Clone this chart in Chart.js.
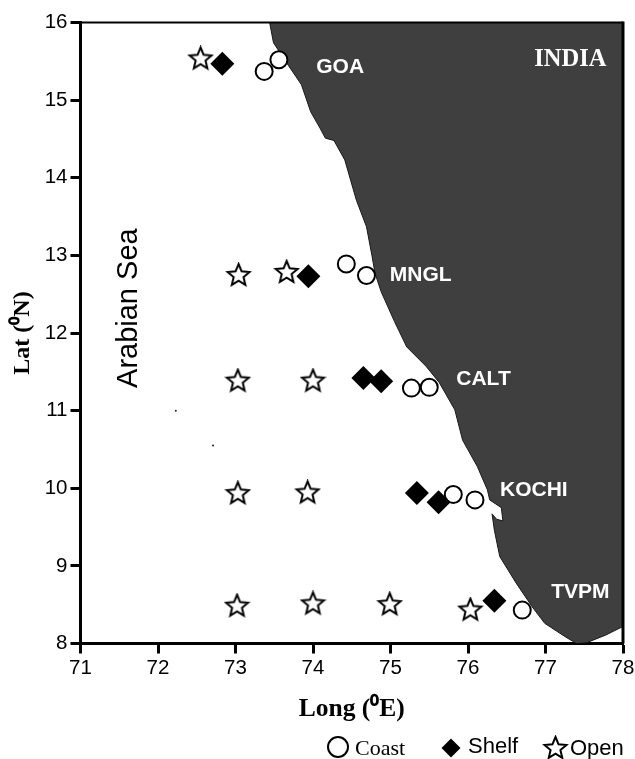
<!DOCTYPE html>
<html>
<head>
<meta charset="utf-8">
<style>
  html, body { margin: 0; padding: 0; background: #fff; }
  canvas { display: block; }
</style>
<script src="https://cdn.jsdelivr.net/npm/chart.js@4"></script>
</head>
<body>
<canvas id="chart" width="635" height="759"></canvas>
<script>
var xTicks = [71, 72, 73, 74, 75, 76, 77, 78];
var yTicks = [8, 9, 10, 11, 12, 13, 14, 15, 16];

var coastLon = [73.37, 73.56, 74.43, 74.69, 75.27, 75.50, 75.81, 76.09, 76.70];
var coastLat = [15.37, 15.52, 12.89, 12.74, 11.29, 11.30, 9.92, 9.85, 8.43];
var shelfLon = [72.83, 73.94, 74.65, 74.88, 75.34, 75.62, 76.34];
var shelfLat = [15.47, 12.73, 11.42, 11.38, 9.94, 9.82, 8.55];
var openLon = [72.55, 73.04, 73.66, 73.03, 74.00, 73.03, 73.93, 73.02, 74.00, 74.99, 76.03];
var openLat = [15.53, 12.74, 12.78, 11.38, 11.38, 9.93, 9.94, 8.48, 8.51, 8.50, 8.43];

// west coast of india, north to south
var shoreLon = [73.44, 73.49, 73.68, 73.85, 73.97, 74.09, 74.16, 74.27, 74.41, 74.56, 74.69, 74.76, 74.80, 74.88, 75.05, 75.21, 75.46, 75.63, 75.83, 75.93, 76.12, 76.25, 76.28, 76.43, 76.45, 76.37, 76.31, 76.34, 76.41, 76.62, 76.83, 76.99, 77.25, 77.40, 77.53, 77.78, 78.00];
var shoreLat = [16.00, 15.74, 15.45, 15.20, 14.85, 14.64, 14.51, 14.48, 14.23, 13.71, 13.37, 13.00, 12.77, 12.53, 12.15, 11.82, 11.57, 11.36, 11.01, 10.62, 10.28, 9.98, 9.85, 9.75, 9.58, 9.60, 9.67, 9.46, 9.12, 8.78, 8.47, 8.26, 8.09, 8.00, 8.01, 8.11, 8.22];
var isleLon = [72.23, 72.71];
var isleLat = [11.00, 10.55];

var placeNames = ['GOA', 'MNGL', 'CALT', 'KOCHI', 'TVPM'];
var placeLon = [74.35, 75.39, 76.20, 76.85, 77.45];
var placeLat = [15.42, 12.75, 11.41, 9.98, 8.66];

function toPoints(xs, ys) {
  return xs.map(function (x, i) { return { x: x, y: ys[i] }; });
}

function makeStar(size) {
  var c = document.createElement('canvas');
  c.width = size;
  c.height = size;
  var g = c.getContext('2d');
  var mid = size / 2;
  var outer = size / 2 - 2;
  var inner = outer * 0.45;
  g.beginPath();
  for (var i = 0; i < 10; i++) {
    var r = i % 2 ? inner : outer;
    var a = -Math.PI / 2 + i * Math.PI / 5;
    g.lineTo(mid + r * Math.cos(a), mid + r * Math.sin(a));
  }
  g.closePath();
  g.fillStyle = '#fff';
  g.fill();
  g.lineWidth = 2;
  g.lineJoin = 'miter';
  g.strokeStyle = '#000';
  g.stroke();
  return c;
}
var star = makeStar(27);

// box round the plot, map names and the hand placed legend
var extras = {
  id: 'extras',
  afterDatasetsDraw: function (chart) {
    var ctx = chart.ctx;
    var area = chart.chartArea;
    var sx = chart.scales.x;
    var sy = chart.scales.y;
    ctx.save();
    ctx.strokeStyle = '#000';
    ctx.lineWidth = 2;
    ctx.beginPath();
    ctx.moveTo(area.left, area.top);
    ctx.lineTo(area.right, area.top);
    ctx.stroke();
    ctx.lineWidth = 3;
    ctx.beginPath();
    ctx.moveTo(area.right, area.top - 1);
    ctx.lineTo(area.right, area.bottom);
    ctx.stroke();

    ctx.textAlign = 'center';
    ctx.textBaseline = 'middle';
    ctx.fillStyle = '#fff';
    ctx.font = 'bold 21px "Liberation Sans"';
    placeNames.forEach(function (name, i) {
      ctx.fillText(name, sx.getPixelForValue(placeLon[i]), sy.getPixelForValue(placeLat[i]));
    });
    ctx.font = 'bold 24.5px "Liberation Serif"';
    ctx.fillText('INDIA', sx.getPixelForValue(77.32), sy.getPixelForValue(15.52));

    ctx.fillStyle = '#000';
    ctx.save();
    ctx.translate(sx.getPixelForValue(71.62), sy.getPixelForValue(12.32));
    ctx.rotate(-Math.PI / 2);
    ctx.font = '29px "Liberation Sans"';
    ctx.fillText('Arabian Sea', 0, 0);
    ctx.restore();

    // legend
    ctx.textAlign = 'left';
    ctx.textBaseline = 'alphabetic';
    ctx.font = '22px "Liberation Serif"';
    ctx.fillText('Coast', 355, 755);
    ctx.font = '22px "Liberation Sans"';
    ctx.fillText('Shelf', 468, 753);
    ctx.fillText('Open', 570, 755);
    ctx.beginPath();
    ctx.arc(338, 747, 10, 0, Math.PI * 2);
    ctx.lineWidth = 2;
    ctx.stroke();
    ctx.beginPath();
    ctx.moveTo(451, 738.5);
    ctx.lineTo(460.5, 748);
    ctx.lineTo(451, 757.5);
    ctx.lineTo(441.5, 748);
    ctx.closePath();
    ctx.fill();
    ctx.drawImage(star, 542, 735);
    ctx.restore();
  }
};

function axisOpts(ticks, titleText) {
  return {
    type: 'linear',
    min: ticks[0],
    max: ticks[ticks.length - 1],
    afterBuildTicks: function (scale) {
      scale.ticks = ticks.map(function (v) { return { value: v }; });
    },
    border: { display: true, color: '#000', width: 3 },
    grid: { drawOnChartArea: false, drawTicks: true, tickLength: 10, tickWidth: 3, tickColor: '#000' },
    ticks: {
      color: '#000',
      padding: 3,
      autoSkip: false,
      maxRotation: 0,
      font: { family: '"Liberation Sans"', size: 20.5 }
    },
    title: {
      display: true,
      text: titleText,
      color: '#000',
      font: { family: '"Liberation Serif"', size: 24, weight: 'bold' }
    }
  };
}

var xAxis = axisOpts(xTicks, 'Long (⁰E)');
xAxis.title.font.size = 25.5;
xAxis.title.padding = { top: 0, bottom: 34 };
xAxis.afterFit = function (scale) {
  scale.height = 115.5;
  scale.paddingLeft = 0;
  scale.paddingRight = 0;
};
var yAxis = axisOpts(yTicks, 'Lat (⁰N)');
yAxis.title.padding = { top: 8, bottom: 0 };
yAxis.afterFit = function (scale) {
  scale.width = 80.5;
  scale.paddingTop = 0;
  scale.paddingBottom = 0;
};

new Chart(document.getElementById('chart').getContext('2d'), {
  type: 'scatter',
  data: {
    datasets: [
      {
        label: 'Land',
        data: toPoints(shoreLon, shoreLat),
        showLine: true,
        fill: 'end',
        tension: 0,
        backgroundColor: '#3f3f3f',
        borderColor: '#1a1a1a',
        borderWidth: 1,
        pointRadius: 0,
        order: 5
      },
      {
        label: 'Isles',
        data: toPoints(isleLon, isleLat),
        backgroundColor: '#222',
        borderWidth: 0,
        pointRadius: 1,
        order: 4
      },
      {
        label: 'Coast',
        data: toPoints(coastLon, coastLat),
        pointStyle: 'circle',
        pointRadius: 8.5,
        backgroundColor: '#fff',
        borderColor: '#000',
        borderWidth: 2,
        order: 3
      },
      {
        label: 'Shelf',
        data: toPoints(shelfLon, shelfLat),
        pointStyle: 'rectRot',
        pointRadius: 12,
        backgroundColor: '#000',
        borderColor: '#000',
        borderWidth: 0,
        order: 2
      },
      {
        label: 'Open',
        data: toPoints(openLon, openLat),
        pointStyle: star,
        order: 1
      }
    ]
  },
  options: {
    responsive: false,
    animation: false,
    layout: { padding: { top: 22.5, right: 12, bottom: 0, left: 0 } },
    plugins: { legend: { display: false }, tooltip: { enabled: false } },
    scales: { x: xAxis, y: yAxis }
  },
  plugins: [extras]
});
</script>
</body>
</html>
